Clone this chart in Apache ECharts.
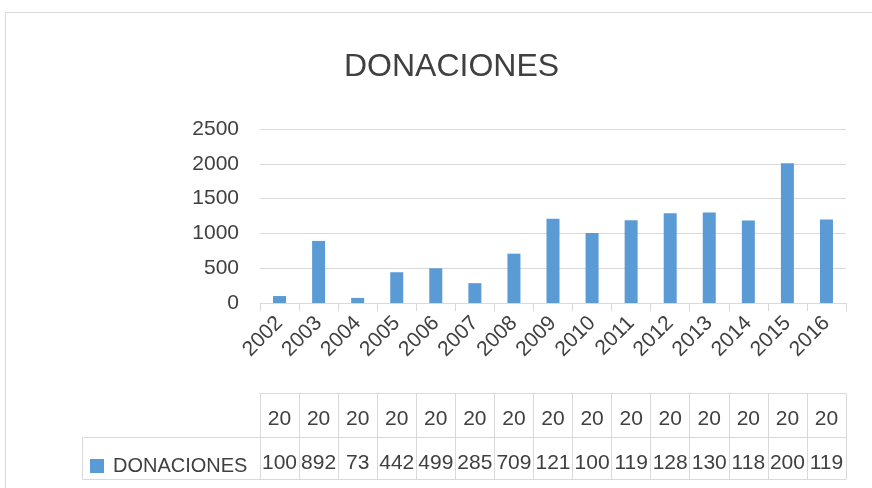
<!DOCTYPE html>
<html>
<head>
<meta charset="utf-8">
<script src="https://cdn.jsdelivr.net/npm/echarts@6/dist/echarts.min.js"></script>
<style>
  html, body { margin: 0; padding: 0; background: #fff; }
  #chart { width: 872px; height: 488px; }
</style>
</head>
<body>
<div id="chart"></div>
<script>
const years = ["2002", "2003", "2004", "2005", "2006", "2007", "2008", "2009",
  "2010", "2011", "2012", "2013", "2014", "2015", "2016"];
const donaciones = [100, 892, 73, 442, 499, 285, 709, 1210, 1005, 1190, 1289, 1300, 1185, 2008, 1199];
const yTicks = [0, 500, 1000, 1500, 2000, 2500];

const FONT = "Liberation Sans";
const TXT = "#404040";
const LINE = "#d9d9d9";
const BAR = "#5b9bd5";

const myChart = echarts.init(document.getElementById("chart"));

// the table under the chart is built from extra x axes (lines = axis line, cell borders = ticks)
const tableAxis = (offset, tickLen, fmt, margin) => ({
  type: "category",
  data: years,
  position: "bottom",
  offset: offset,
  axisLine: { show: true, lineStyle: { color: LINE, width: 1 } },
  axisTick: { show: tickLen > 0, length: tickLen, lineStyle: { color: LINE } },
  axisLabel: {
    show: !!fmt,
    formatter: fmt,
    margin: margin,
    interval: 0,
    fontFamily: FONT,
    fontSize: 21,
    color: TXT,
  },
  splitLine: { show: false },
});

let option = {
  animation: false,
  title: {
    text: "DONACIONES",
    left: 339,
    top: 46,
    textStyle: { fontFamily: FONT, fontSize: 32, fontWeight: "normal", color: TXT },
  },
  grid: { left: 260, right: 26, top: 129, bottom: 185, containLabel: false },
  legend: {
    left: 85,
    top: 451,
    icon: "rect",
    itemWidth: 14,
    itemHeight: 14,
    textStyle: { fontFamily: FONT, fontSize: 20, color: TXT, padding: [0, 0, 0, 4] },
    data: ["DONACIONES"],
  },
  xAxis: [
    {
      type: "category",
      data: years,
      axisLine: { lineStyle: { color: LINE } },
      axisTick: { show: true, length: 8, lineStyle: { color: LINE } },
      axisLabel: {
        interval: 0,
        rotate: 45,
        margin: 17,
        fontFamily: FONT,
        fontSize: 21,
        color: TXT,
      },
    },
    tableAxis(90, 44, (v) => v.slice(0, 2), 16),
    tableAxis(134, 42, (v, i) => String(donaciones[i]).slice(0, 3), 16),
    tableAxis(176, 0, null, 0),
  ],
  yAxis: {
    type: "value",
    min: yTicks[0],
    max: yTicks[yTicks.length - 1],
    interval: 500,
    axisLine: { show: false },
    axisTick: { show: false },
    axisLabel: { margin: 21, fontFamily: FONT, fontSize: 21, color: TXT, formatter: (v) => String(v) },
    splitLine: { lineStyle: { color: LINE } },
  },
  series: [
    {
      name: "DONACIONES",
      type: "bar",
      xAxisIndex: 0,
      data: donaciones,
      barWidth: 13,
      itemStyle: { color: BAR },
    },
  ],
  graphic: [
    // outer chart-area border (left and top edges visible)
    { type: "rect", shape: { x: 5.5, y: 12.5, width: 900, height: 600 },
      style: { fill: null, stroke: LINE, lineWidth: 1 }, silent: true },
    // legend cell of the data table
    { type: "polyline", shape: { points: [[260, 437.5], [82.5, 437.5], [82.5, 479.5], [260, 479.5]] },
      style: { fill: null, stroke: LINE, lineWidth: 1 }, silent: true },
  ],
};
myChart.setOption(option);
</script>
</body>
</html>
